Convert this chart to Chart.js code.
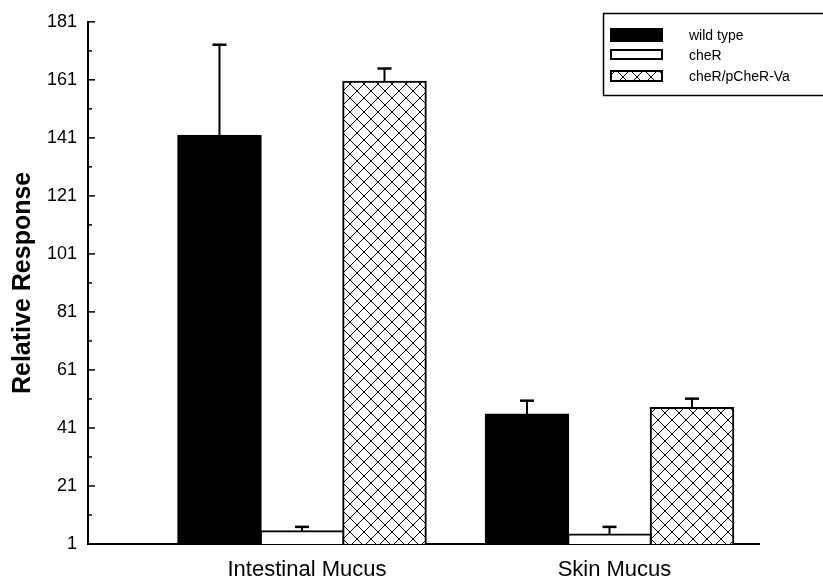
<!DOCTYPE html>
<html><head><meta charset="utf-8">
<script src="https://cdn.jsdelivr.net/npm/chart.js@4"></script>
<style>html,body{margin:0;padding:0;background:#fff;overflow:hidden;}</style>
</head><body>
<canvas id="c" width="823" height="579" style="width:823px;height:579px;display:block"></canvas>
<script>
// ---- data ----
const categories = ['Intestinal Mucus', 'Skin Mucus'];
const seriesNames = ['wild type', 'cheR', 'cheR/pCheR-Va'];
const wildType = [141.7, 45.6];
const cheR = [5.4, 4.3];
const cheRComp = [160.3, 47.9];
const wildTypeErr = [31.4, 4.8];
const cheRErr = [1.5, 2.6];
const cheRCompErr = [4.6, 3.2];
const yTicks = [1, 21, 41, 61, 81, 101, 121, 141, 161, 181];
const yTitle = 'Relative Response';

const FONT = "'Liberation Sans', Arial, Helvetica, sans-serif";
const canvas = document.getElementById('c');
const ctx = canvas.getContext('2d');

function makeHatch() {
  const s = 14;
  const c = document.createElement('canvas');
  c.width = s; c.height = s;
  const g = c.getContext('2d');
  g.fillStyle = '#fff'; g.fillRect(0, 0, s, s);
  g.strokeStyle = '#000'; g.lineWidth = 1;
  g.beginPath();
  g.moveTo(-1, -1); g.lineTo(s + 1, s + 1);
  g.moveTo(s + 1, -1); g.lineTo(-1, s + 1);
  g.stroke();
  return ctx.createPattern(c, 'repeat');
}
const hatch = makeHatch();

const errs = [wildTypeErr, cheRErr, cheRCompErr];
const toXY = arr => arr.map((v, i) => ({ x: i, y: v }));

const errorBars = {
  id: 'errorBars',
  afterDatasetsDraw(chart) {
    const c = chart.ctx, ys = chart.scales.y;
    c.save();
    c.strokeStyle = '#000';
    chart.data.datasets.forEach((ds, di) => {
      const meta = chart.getDatasetMeta(di);
      meta.data.forEach((bar, j) => {
        const top = ys.getPixelForValue(ds.data[j].y + errs[di][j]);
        c.lineWidth = 2;
        c.beginPath(); c.moveTo(bar.x, bar.y); c.lineTo(bar.x, top); c.stroke();
        c.lineWidth = 2.5;
        c.beginPath(); c.moveTo(bar.x - 7, top); c.lineTo(bar.x + 7, top); c.stroke();
      });
    });
    c.restore();
  }
};

const axisTicks = {
  id: 'axisTicks',
  afterDraw(chart) {
    const c = chart.ctx, ys = chart.scales.y, left = chart.chartArea.left;
    c.save();
    c.strokeStyle = '#000'; c.lineWidth = 1.5;
    yTicks.forEach((v, i) => {
      const p = ys.getPixelForValue(v);
      c.beginPath(); c.moveTo(left, p); c.lineTo(left + 7, p); c.stroke();
      if (i < yTicks.length - 1) {
        const m = ys.getPixelForValue((v + yTicks[i + 1]) / 2);
        c.beginPath(); c.moveTo(left, m); c.lineTo(left + 4, m); c.stroke();
      }
    });
    c.restore();
  }
};

const boxLegend = {
  id: 'boxLegend',
  afterDraw(chart) {
    const c = chart.ctx;
    c.save();
    c.strokeStyle = '#000'; c.lineWidth = 1.5;
    c.strokeRect(603.5, 13.5, 240, 82);
    const rows = [{ y: 28, h: 14, base: 39.5 }, { y: 49, h: 11, base: 60 }, { y: 70, h: 12, base: 80.5 }];
    chart.data.datasets.forEach((ds, i) => {
      const r = rows[i];
      c.fillStyle = ds.backgroundColor;
      c.fillRect(610, r.y, 53, r.h);
      c.lineWidth = 2;
      c.strokeRect(611, r.y + 1, 51, r.h - 2);
      c.fillStyle = '#000';
      c.font = '14px ' + FONT;
      c.textAlign = 'left'; c.textBaseline = 'alphabetic';
      c.fillText(seriesNames[i], 689, r.base);
    });
    c.restore();
  }
};

new Chart(ctx, {
  type: 'bar',
  data: {
    datasets: [
      { label: seriesNames[0], data: toXY(wildType), backgroundColor: '#000', borderColor: '#000', borderWidth: 2, inflateAmount: 1 },
      { label: seriesNames[1], data: toXY(cheR), backgroundColor: '#fff', borderColor: '#000', borderWidth: 2, inflateAmount: 1 },
      { label: seriesNames[2], data: toXY(cheRComp), backgroundColor: hatch, borderColor: '#000', borderWidth: 2, inflateAmount: 1 }
    ]
  },
  options: {
    responsive: false,
    animation: false,
    devicePixelRatio: 1,
    categoryPercentage: 0.805,
    barPercentage: 1.0,
    layout: { padding: { top: 17.5, right: 64, left: 0, bottom: 0 } },
    plugins: { legend: { display: false }, tooltip: { enabled: false } },
    scales: {
      x: {
        type: 'linear',
        offset: false,
        min: -0.6959,
        max: 1.4862,
        afterBuildTicks: s => { s.ticks = categories.map((_, i) => ({ value: i })); },
        afterFit: s => { s.height = 35; },
        grid: { display: false, drawTicks: false, offset: false },
        border: { display: true, color: '#000', width: 2 },
        ticks: {
          color: '#000', padding: 13, maxRotation: 0, autoSkip: false, labelOffset: 5,
          font: { family: FONT, size: 22 },
          callback: v => categories[v] ?? ''
        }
      },
      y: {
        min: 1,
        max: 181,
        afterBuildTicks: s => { s.ticks = yTicks.map(v => ({ value: v })); },
        afterFit: s => { s.width = 88; },
        grid: { display: false, drawTicks: false },
        border: { display: true, color: '#000', width: 2 },
        ticks: { color: '#000', padding: 11, font: { family: FONT, size: 18 }, autoSkip: false },
        title: { display: true, text: yTitle, color: '#000', padding: { top: 8, bottom: 0 }, font: { family: FONT, size: 25, weight: 'bold' } }
      }
    }
  },
  plugins: [errorBars, axisTicks, boxLegend]
});
</script>
</body></html>
